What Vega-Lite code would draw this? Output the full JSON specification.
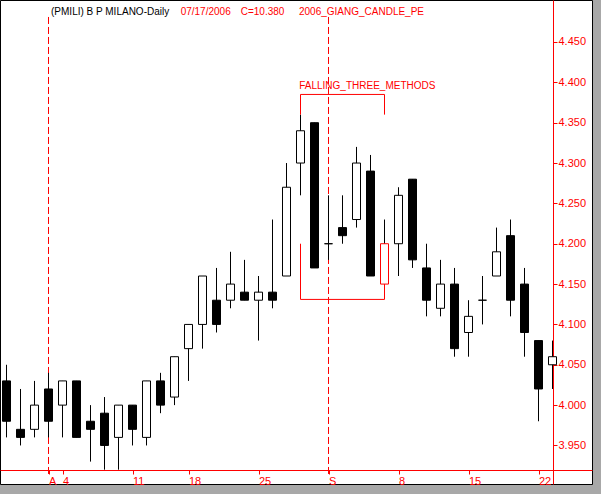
{
  "$schema": "https://vega.github.io/schema/vega-lite/v6.json",
  "width": 592,
  "height": 484,
  "autosize": {"type": "none"},
  "padding": {"left": 0, "top": 0, "right": 9, "bottom": 10},
  "background": "#a8a8a8",
  "config": {
    "view": {"fill": "white", "stroke": "black", "strokeWidth": 1},
    "font": "Liberation Sans"
  },
  "datasets": {
    "candles": [
      {"i": 0, "open": 4.030, "high": 4.050, "low": 3.960, "close": 3.980},
      {"i": 1, "open": 3.970, "high": 4.020, "low": 3.950, "close": 3.960},
      {"i": 2, "open": 3.970, "high": 4.030, "low": 3.960, "close": 4.000},
      {"i": 3, "open": 4.020, "high": 4.040, "low": 3.960, "close": 3.980},
      {"i": 4, "open": 4.000, "high": 4.030, "low": 3.960, "close": 4.030},
      {"i": 5, "open": 4.030, "high": 4.030, "low": 3.960, "close": 3.960},
      {"i": 6, "open": 3.980, "high": 4.000, "low": 3.930, "close": 3.970},
      {"i": 7, "open": 3.990, "high": 4.010, "low": 3.920, "close": 3.950},
      {"i": 8, "open": 3.960, "high": 4.000, "low": 3.920, "close": 4.000},
      {"i": 9, "open": 4.000, "high": 4.000, "low": 3.950, "close": 3.970},
      {"i": 10, "open": 3.960, "high": 4.030, "low": 3.950, "close": 4.030},
      {"i": 11, "open": 4.030, "high": 4.040, "low": 3.990, "close": 4.000},
      {"i": 12, "open": 4.010, "high": 4.060, "low": 4.000, "close": 4.060},
      {"i": 13, "open": 4.070, "high": 4.100, "low": 4.030, "close": 4.100},
      {"i": 14, "open": 4.100, "high": 4.160, "low": 4.070, "close": 4.160},
      {"i": 15, "open": 4.130, "high": 4.170, "low": 4.090, "close": 4.100},
      {"i": 16, "open": 4.130, "high": 4.190, "low": 4.120, "close": 4.150},
      {"i": 17, "open": 4.140, "high": 4.180, "low": 4.130, "close": 4.130},
      {"i": 18, "open": 4.130, "high": 4.160, "low": 4.080, "close": 4.140},
      {"i": 19, "open": 4.140, "high": 4.230, "low": 4.120, "close": 4.130},
      {"i": 20, "open": 4.160, "high": 4.300, "low": 4.160, "close": 4.270},
      {"i": 21, "open": 4.300, "high": 4.360, "low": 4.260, "close": 4.340},
      {"i": 22, "open": 4.350, "high": 4.350, "low": 4.170, "close": 4.170},
      {"i": 23, "open": 4.200, "high": 4.260, "low": 4.180, "close": 4.200},
      {"i": 24, "open": 4.220, "high": 4.260, "low": 4.200, "close": 4.210},
      {"i": 25, "open": 4.230, "high": 4.320, "low": 4.220, "close": 4.300},
      {"i": 26, "open": 4.290, "high": 4.310, "low": 4.160, "close": 4.160},
      {"i": 27, "open": 4.150, "high": 4.230, "low": 4.150, "close": 4.200, "pattern": true},
      {"i": 28, "open": 4.200, "high": 4.270, "low": 4.160, "close": 4.260},
      {"i": 29, "open": 4.280, "high": 4.280, "low": 4.170, "close": 4.180},
      {"i": 30, "open": 4.170, "high": 4.200, "low": 4.110, "close": 4.130},
      {"i": 31, "open": 4.120, "high": 4.180, "low": 4.110, "close": 4.150},
      {"i": 32, "open": 4.150, "high": 4.170, "low": 4.060, "close": 4.070},
      {"i": 33, "open": 4.090, "high": 4.130, "low": 4.060, "close": 4.110},
      {"i": 34, "open": 4.130, "high": 4.160, "low": 4.100, "close": 4.130},
      {"i": 35, "open": 4.160, "high": 4.220, "low": 4.160, "close": 4.190},
      {"i": 36, "open": 4.210, "high": 4.230, "low": 4.110, "close": 4.130},
      {"i": 37, "open": 4.150, "high": 4.170, "low": 4.060, "close": 4.090},
      {"i": 38, "open": 4.080, "high": 4.080, "low": 3.980, "close": 4.020},
      {"i": 39, "open": 4.050, "high": 4.080, "low": 4.020, "close": 4.060}
    ],
    "months": [
      {"i": 3, "top": 4.481, "bottom": 3.9134},
      {"i": 23, "top": 4.481, "bottom": 3.9134}
    ],
    "bracket": [
      {"g": "upper", "s": 0, "i": 21, "p": 4.360},
      {"g": "upper", "s": 1, "i": 21, "p": 4.385},
      {"g": "upper", "s": 2, "i": 27, "p": 4.385},
      {"g": "upper", "s": 3, "i": 27, "p": 4.360},
      {"g": "lower", "s": 0, "i": 21, "p": 4.200},
      {"g": "lower", "s": 1, "i": 21, "p": 4.131},
      {"g": "lower", "s": 2, "i": 27, "p": 4.131},
      {"g": "lower", "s": 3, "i": 27, "p": 4.150}
    ],
    "headerBlack": [
      {"i": 3.18, "p": 4.4877, "t": "(PMILI) B P MILANO-Daily"}
    ],
    "headerRed": [
      {"i": 12.44, "p": 4.4877, "t": "07/17/2006"},
      {"i": 16.73, "p": 4.4877, "t": "C=10.380"},
      {"i": 20.89, "p": 4.4877, "t": "2006_GIANG_CANDLE_PE"},
      {"i": 20.91, "p": 4.3958, "t": "FALLING_THREE_METHODS"}
    ]
  },
  "layer": [
    {
      "data": {"name": "months"},
      "mark": {"type": "rule", "color": "red", "strokeWidth": 1, "strokeDash": [7, 3], "clip": false},
      "encoding": {
        "x": {
          "field": "i", "type": "quantitative",
          "scale": {"domain": [-0.4643, 41.8214], "nice": false, "zero": false, "padding": 0},
          "axis": {
            "orient": "bottom", "offset": -14,
            "values": [3, 4, 9, 13, 18, 23, 28, 33, 38],
            "labelExpr": "datum.value == 3 ? 'A' : datum.value == 4 ? '4' : datum.value == 9 ? '11' : datum.value == 13 ? '18' : datum.value == 18 ? '25' : datum.value == 23 ? 'S' : datum.value == 28 ? '8' : datum.value == 33 ? '15' : '22'",
            "domainColor": "red", "domainWidth": 1,
            "tickColor": "red", "tickSize": 4, "tickWidth": 1,
            "labelColor": "red", "labelFont": "Liberation Sans", "labelFontSize": 11,
            "labelAlign": "left", "labelBaseline": "top", "labelPadding": 1, "labelDx": 0,
            "labelOverlap": false, "labelBound": false, "labelFlush": false,
            "grid": false, "title": null
          }
        },
        "y": {
          "field": "top", "type": "quantitative",
          "scale": {"domain": [3.90225, 4.50204], "nice": false, "zero": false, "padding": 0},
          "axis": {
            "orient": "right", "offset": -39,
            "values": [3.95, 4.0, 4.05, 4.1, 4.15, 4.2, 4.25, 4.3, 4.35, 4.4, 4.45],
            "format": ".3f",
            "domainColor": "red", "domainWidth": 1,
            "tickColor": "red", "tickSize": 4, "tickWidth": 1,
            "labelColor": "red", "labelFont": "Liberation Sans", "labelFontSize": 11,
            "labelPadding": 1, "labelBaseline": "middle",
            "labelOverlap": false, "labelBound": false, "labelFlush": false,
            "grid": false, "title": null
          }
        },
        "y2": {"field": "bottom"}
      }
    },
    {
      "data": {"name": "candles"},
      "mark": {"type": "rule", "color": "black", "strokeWidth": 1},
      "encoding": {
        "x": {"field": "i", "type": "quantitative"},
        "y": {"field": "low", "type": "quantitative"},
        "y2": {"field": "high"}
      }
    },
    {
      "data": {"name": "candles"},
      "mark": {"type": "bar", "size": 8, "strokeWidth": 1},
      "encoding": {
        "x": {"field": "i", "type": "quantitative"},
        "y": {"field": "open", "type": "quantitative"},
        "y2": {"field": "close"},
        "fill": {"condition": {"test": "datum.close >= datum.open", "value": "white"}, "value": "black"},
        "stroke": {"condition": {"test": "datum.pattern === true", "value": "red"}, "value": "black"}
      }
    },
    {
      "data": {"name": "bracket"},
      "mark": {"type": "line", "color": "red", "strokeWidth": 1},
      "encoding": {
        "x": {"field": "i", "type": "quantitative"},
        "y": {"field": "p", "type": "quantitative"},
        "detail": {"field": "g"},
        "order": {"field": "s"}
      }
    },
    {
      "data": {"name": "headerBlack"},
      "mark": {"type": "text", "color": "black", "font": "Liberation Sans", "fontSize": 10, "align": "left", "baseline": "middle"},
      "encoding": {
        "x": {"field": "i", "type": "quantitative"},
        "y": {"field": "p", "type": "quantitative"},
        "text": {"field": "t"}
      }
    },
    {
      "data": {"name": "headerRed"},
      "mark": {"type": "text", "color": "red", "font": "Liberation Sans", "fontSize": 10, "align": "left", "baseline": "middle"},
      "encoding": {
        "x": {"field": "i", "type": "quantitative"},
        "y": {"field": "p", "type": "quantitative"},
        "text": {"field": "t"}
      }
    }
  ]
}
